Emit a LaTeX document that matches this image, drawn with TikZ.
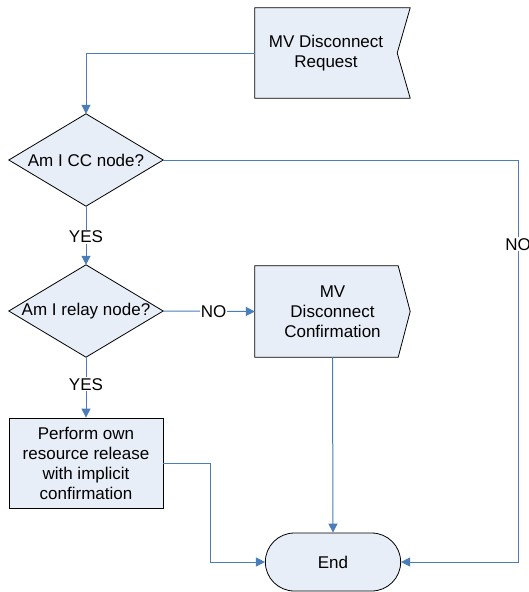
\documentclass[tikz,border=0pt]{standalone}
\usepackage{fontspec}
\setmainfont{Liberation Sans}
\usetikzlibrary{arrows.meta,shapes.misc,backgrounds}
\definecolor{shapefill}{HTML}{E8EEF8}
\definecolor{flowblue}{HTML}{4A7EBB}
\begin{document}
\begin{tikzpicture}[x=1pt,y=-1pt,
  every node/.style={font=\fontsize{17}{20}\selectfont},
  textbox/.style={rectangle, inner sep=0pt, align=center},
  outline/.style={draw=black, line width=0.8pt, fill=shapefill},
  flow/.style={draw=flowblue, line width=1pt, -{Triangle[length=9pt,width=9pt]}},
  tag/.style={fill=white, inner sep=1pt}]
\useasboundingbox (0,0) rectangle (529,592);

% text holders of the flowchart steps
\node[textbox, minimum width=142pt, minimum height=90pt] (req) at (326,53) {MV Disconnect\\Request};
\node[textbox, minimum width=154pt, minimum height=92pt] (cc) at (86,160) {Am I CC node?};
\node[textbox, minimum width=154pt, minimum height=92pt] (relay) at (86,311) {Am I relay node?};
\node[textbox, minimum width=155pt, minimum height=91pt] (conf) at (332.5,311.5) {MV\\Disconnect\\Confirmation};
\node[textbox, outline, minimum width=154pt, minimum height=90pt] (perf) at (86,463) {Perform own\\resource release\\with implicit\\confirmation};
\node[rounded rectangle, outline, minimum width=142pt, minimum height=58pt] (end) at (333,562) {End};

% outlines of the signal and decision shapes
\begin{scope}[on background layer]
  \draw[outline] (req.north west) -- ([xshift=13pt]req.north east) -- (req.east)
    -- ([xshift=13pt]req.south east) -- (req.south west) -- cycle;
  \draw[outline] (cc.north) -- (cc.east) -- (cc.south) -- (cc.west) -- cycle;
  \draw[outline] (relay.north) -- (relay.east) -- (relay.south) -- (relay.west) -- cycle;
  \draw[outline] (conf.north west) -- ([xshift=-12pt]conf.north east) -- (conf.east)
    -- ([xshift=-12pt]conf.south east) -- (conf.south west) -- cycle;
\end{scope}

% bends of the routed connectors
\coordinate (ne) at (518,160);
\coordinate (se) at (518,562);
\coordinate (pj) at (210,463);
\coordinate (pk) at (210,562);

% connectors
\draw[flow] (req.west) -| (cc.north);
\draw[flow] (cc.south) -- node[tag, pos=0.52] {YES} (relay.north);
\draw[flow] (cc.east) -- (ne) -- node[tag, pos=0.21] {NO} (se) -- (end.east);
\draw[flow] (relay.east) -- node[tag, pos=0.55] {NO} (conf.west);
\draw[flow] (relay.south) -- node[tag, pos=0.45] {YES} (perf.north);
\draw[flow] (conf.south) -- (end.north);
\draw[flow] (perf.east) -- (pj) -- (pk) -- (end.west);
\end{tikzpicture}
\end{document}
